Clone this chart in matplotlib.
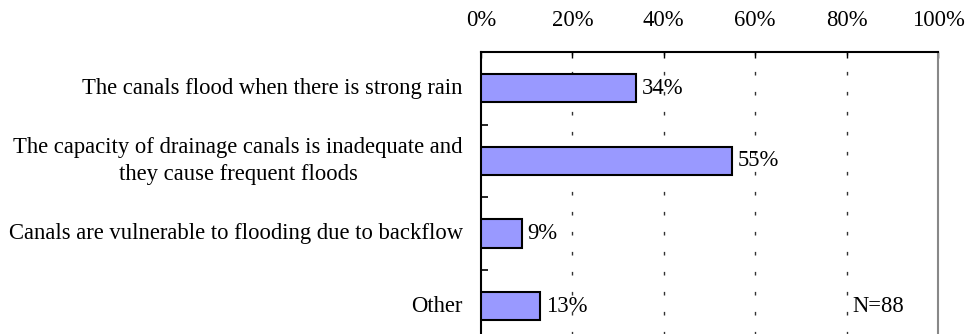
import numpy as np
import matplotlib.pyplot as plt

plt.rcParams['font.family'] = ['Liberation Serif', 'DejaVu Serif']

categories = [
    "The canals flood when there is strong rain",
    "The capacity of drainage canals is inadequate and\nthey cause frequent floods",
    "Canals are vulnerable to flooding due to backflow",
    "Other",
]
values = [34, 55, 9, 13]
x_ticks = [0, 20, 40, 60, 80, 100]
x_tick_labels = ["0%", "20%", "40%", "60%", "80%", "100%"]
note = "N=88"

fs = 16.3

fig = plt.figure(figsize=(9.67, 3.34), dpi=100)
ax = fig.add_axes([481/967, 1 - 342.5/334, (938 - 481)/967, (342.5 - 52)/334])

ypos = np.arange(len(categories))
ax.barh(ypos, values, height=0.39, color='#9999FF', edgecolor='black', linewidth=1.5, zorder=3)

for y, v in zip(ypos, values):
    ax.annotate(f"{v}%", xy=(v, y), xytext=(4, 0), textcoords='offset points',
                va='center', ha='left', fontsize=fs, zorder=4)

ax.text(81.2, ypos[-1], note, va='center', ha='left', fontsize=fs)

ax.set_xlim(0, 100)
ax.set_ylim(len(categories) - 0.5, -0.5)

ax.xaxis.tick_top()
ax.set_xticks(x_ticks)
ax.set_xticklabels(x_tick_labels, fontsize=fs)
ax.tick_params(axis='x', direction='in', length=4, width=1, pad=15, top=True, bottom=False)

for x in x_ticks[1:-1]:
    ax.axvline(x, color='#333333', lw=1, dashes=(2.6, 11.8), zorder=1)

ax.set_yticks(ypos)
ax.set_yticklabels(categories, fontsize=fs, multialignment='center', linespacing=1.4, va='center')
ax.tick_params(axis='y', length=0, pad=13)
ax.set_yticks(np.arange(len(categories) + 1) - 0.5, minor=True)
ax.tick_params(axis='y', which='minor', direction='in', length=5, width=1.2)

for side in ['top', 'left']:
    ax.spines[side].set_linewidth(1.5)
    ax.spines[side].set_color('black')
ax.spines['right'].set_color('#888888')
ax.spines['right'].set_linewidth(1.5)
ax.spines['bottom'].set_visible(False)

fig.savefig('out.png', dpi=100)
